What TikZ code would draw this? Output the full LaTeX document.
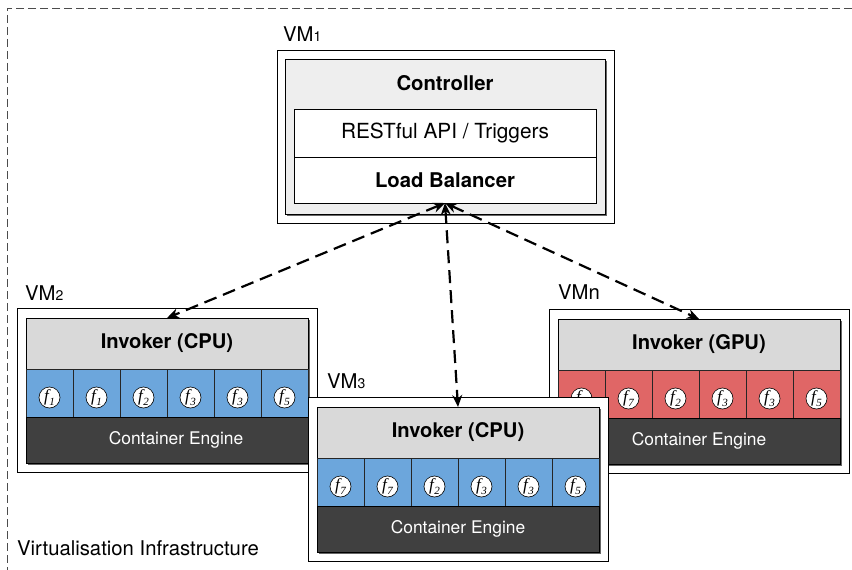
\documentclass[tikz,border=0pt]{standalone}
\usepackage{fontspec}
\setmainfont{TeX Gyre Heros}
\newfontfamily\fnfont{Liberation Serif}
\usetikzlibrary{arrows.meta}

\definecolor{cellblue}{HTML}{6CA6DC}
\definecolor{cellred}{HTML}{E06666}
\definecolor{enginegrey}{HTML}{404040}
\definecolor{headergrey}{HTML}{D9D9D9}
\definecolor{ctrlgrey}{HTML}{EEEEEE}

\tikzset{
  plainbox/.style={draw=black, line width=0.8pt, inner sep=0pt, outer sep=0pt, anchor=north west},
  vmbox/.style={plainbox, fill=white, minimum width=300pt, minimum height=164pt},
  hdrbox/.style={plainbox, fill=headergrey, minimum width=282pt, minimum height=51pt,
    font=\fontsize{20.2}{21}\selectfont\bfseries},
  cellbox/.style={plainbox, draw=black!85, minimum width=47pt, minimum height=48pt},
  engbox/.style={plainbox, fill=enginegrey, minimum width=282pt, minimum height=46pt},
  engtext/.style={text=white, inner sep=0pt, font=\fontsize{17.4}{18}\selectfont},
  fcirc/.style={circle, draw=black, line width=0.6pt, fill=white, minimum size=21pt, inner sep=0pt,
    font=\fnfont\itshape\fontsize{17}{17}\selectfont},
  vmlabel/.style={anchor=base west, inner sep=0pt, font=\fontsize{20.3}{21}\selectfont},
  dropshade/.style={fill=black!60},
  linkarrow/.style={line width=2.2pt, dash pattern=on 13pt off 7pt,
    {Stealth[length=12pt,width=10pt]}-{Stealth[length=12pt,width=10pt]}},
  dashframe/.style={draw=black!70, line width=0.8pt, dash pattern=on 8pt off 4pt},
}

% function label: italic f with a lowered index
\newcommand{\fn}[1]{f\kern0.3pt\raisebox{-4pt}{\fontsize{11}{11}\selectfont #1}}

% one invoker VM: id, x, y, title, cell colour, function indices, engine text shift
\newcommand{\invokervm}[7]{%
  \node[vmbox] (vm#1) at (#2,#3) {};
  \fill[dropshade] (#2+10.5,#3+11.5) rectangle ++(282,145);
  \node[hdrbox] (h#1) at (#2+9,#3+10) {#4};
  \foreach \k [count=\i from 0] in {#6} {
    \node[cellbox, fill=#5] (c#1-\i) at (#2+9+47*\i,#3+61) {};
    \node[fcirc] (f#1-\i) at ([yshift=-4.5pt]c#1-\i.center) {\fn{\k}};
  }
  \node[engbox] (e#1) at (#2+9,#3+109) {};
  \node[engtext] (t#1) at ([xshift=#7]e#1.center) {Container Engine};
}
\newcommand{\vmnum}[1]{{\fontsize{14}{14}\selectfont #1}}

\begin{document}
\begin{tikzpicture}[x=1pt, y=-1pt]
  \useasboundingbox (0,0) rectangle (852,570);

  % surrounding infrastructure frame
  \draw[dashframe] (852,8) -| (7,570);
  \node[anchor=base west, inner sep=0pt, font=\fontsize{20.3}{21}\selectfont] (infra) at (17,555)
    {Virtualisation Infrastructure};

  % controller VM
  \node[vmlabel] (l1) at (283,41) {VM\vmnum{1}};
  \node[plainbox, fill=white, minimum width=337pt, minimum height=173pt] (vm1) at (277,50) {};
  \fill[dropshade] (286.5,60.5) rectangle ++(320,155);
  \node[plainbox, fill=ctrlgrey, minimum width=320pt, minimum height=155pt] (ctl) at (285,59) {};
  \node[font=\fontsize{20.3}{21}\selectfont\bfseries] (ctltitle) at (445,83) {Controller};
  \node[plainbox, fill=white, minimum width=302pt, minimum height=48pt,
        font=\fontsize{20.8}{21}\selectfont] (api) at (294,109) {RESTful API / Triggers};
  \node[plainbox, fill=white, minimum width=302pt, minimum height=46pt,
        font=\fontsize{20.3}{21}\selectfont\bfseries] (lb) at (294,157) {Load Balancer};

  % invoker VMs
  \node[vmlabel] (l2) at (25,300) {VM\vmnum{2}};
  \invokervm{2}{17}{308}{Invoker (CPU)}{cellblue}{1,1,2,3,3,5}{9pt}
  \node[vmlabel] (ln) at (558,299) {VMn};
  \invokervm{n}{549}{309}{Invoker (GPU)}{cellred}{1,7,2,3,3,5}{0pt}
  \node[vmlabel] (l3) at (327,388) {VM\vmnum{3}};
  \invokervm{3}{308}{397}{Invoker (CPU)}{cellblue}{7,7,2,3,3,5}{0pt}

  % load balancer links
  \draw[linkarrow] (lb.south) -- (h2.north);
  \draw[linkarrow] (lb.south) -- (h3.north);
  \draw[linkarrow] (lb.south) -- (hn.north);
\end{tikzpicture}
\end{document}
